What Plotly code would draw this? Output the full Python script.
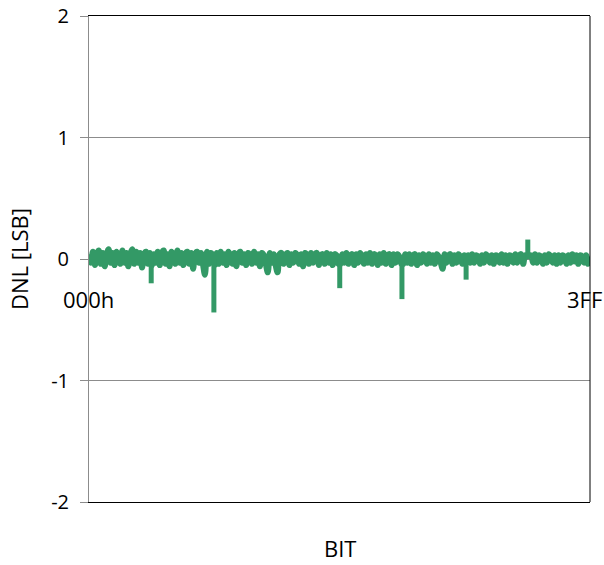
import numpy as np
import plotly.graph_objects as go

# DNL noise sampled across codes 000h..3FFh (256 samples, spikes listed separately)
dnl = [
    0.04,-0.03,0.06,-0.05,0.03,0.07,-0.04,0.05,-0.06,0.04,0.08,-0.03,0.05,-0.05,0.06,0.02,
    -0.04,0.07,-0.03,0.05,-0.06,0.04,0.08,-0.04,0.06,-0.03,0.05,-0.07,0.04,0.06,-0.04,0.05,
    -0.05,0.04,-0.03,0.06,-0.05,0.05,0.07,-0.04,0.04,-0.06,0.06,0.03,-0.04,0.07,-0.03,0.05,
    -0.05,0.04,0.06,-0.04,0.05,-0.08,0.04,0.06,-0.03,0.05,-0.04,-0.13,0.06,-0.04,0.05,0.03,
    -0.05,0.05,-0.04,0.06,-0.03,0.04,-0.05,0.06,0.03,-0.04,0.05,-0.06,0.04,0.06,-0.03,0.04,
    -0.05,0.05,0.03,-0.04,0.06,-0.03,0.04,-0.06,0.05,0.03,-0.04,-0.11,0.05,-0.03,0.04,-0.05,
    -0.11,0.04,0.05,-0.04,0.03,0.05,-0.05,0.04,-0.03,0.05,0.03,-0.04,0.04,-0.06,0.05,0.03,
    -0.04,0.05,-0.03,0.04,0.05,-0.05,0.03,0.04,-0.04,0.05,-0.03,0.04,-0.05,0.04,0.03,-0.04,
    -0.04,0.04,-0.03,0.05,-0.04,0.03,0.04,-0.05,0.04,-0.03,0.05,0.02,-0.04,0.04,-0.03,0.05,
    -0.04,0.04,0.03,-0.05,0.04,-0.03,0.05,-0.04,0.03,0.04,-0.05,0.04,-0.03,0.04,0.02,-0.04,
    -0.04,0.04,-0.03,0.04,-0.04,0.03,0.04,-0.05,0.03,-0.03,0.04,0.02,-0.04,0.04,-0.03,0.03,
    -0.04,0.04,0.02,-0.03,-0.08,0.04,-0.03,0.03,0.04,-0.04,0.03,-0.03,0.04,0.02,-0.04,0.03,
    -0.03,0.03,-0.03,0.04,-0.03,0.03,0.02,-0.04,0.03,-0.03,0.04,0.02,-0.03,0.03,-0.04,0.03,
    0.02,-0.03,0.04,-0.03,0.03,-0.04,0.03,0.02,-0.03,0.04,-0.03,0.03,0.04,-0.04,0.03,0.02,
    0.03,0.03,-0.03,0.04,-0.03,0.03,0.02,-0.04,0.03,-0.03,0.04,0.02,-0.03,0.03,-0.04,0.03,
    -0.03,0.03,0.02,-0.04,0.03,-0.03,0.04,-0.02,0.03,-0.04,0.03,0.02,-0.03,0.03,-0.04,0.02,
]
# isolated DNL spikes (code, value)
spike_codes = [127, 255, 512, 639, 770, 896]
spike_values = [-0.20, -0.44, -0.24, -0.33, -0.17, 0.16]

code_min, code_max = 0, 1023
codes = np.linspace(code_min, code_max, len(dnl))

x_tick_vals = [code_min, code_max]
x_tick_text = ["000h", "3FF"]
y_tick_vals = [-2, -1, 0, 1, 2]
y_tick_text = ["-2", "-1", "0", "1", "2"]
y_title = "DNL [LSB]"
x_title = "BIT"

FONT = "'Open Sans', Lato, sans-serif"
FS = 22
GREEN = "#339966"

fig = go.Figure()
fig.add_trace(go.Scatter(x=codes, y=dnl, mode="lines",
                         line=dict(color=GREEN, width=6, shape="spline", smoothing=1),
                         showlegend=False, hoverinfo="skip"))
sx, sy = [], []
for c, v in zip(spike_codes, spike_values):
    sx += [c, c, None]
    sy += [0, v, None]
fig.add_trace(go.Scatter(x=sx, y=sy, mode="lines",
                         line=dict(color=GREEN, width=5), showlegend=False,
                         hoverinfo="skip"))

fig.update_layout(
    width=604, height=565, autosize=False,
    margin=dict(l=89, r=14, t=16, b=63, pad=0),
    paper_bgcolor="white", plot_bgcolor="white",
    font=dict(family=FONT, size=FS, color="#000000"),
    xaxis=dict(range=[code_min, code_max], showgrid=False, zeroline=False,
               showticklabels=False, ticks="", showline=True, linecolor="#000000",
               linewidth=1, mirror=True, automargin=False),
    yaxis=dict(range=[-2, 2], tickvals=y_tick_vals, ticktext=y_tick_text,
               showgrid=True, automargin=False,
               gridcolor="#8c8c8c", gridwidth=1, zeroline=False,
               showline=True, linecolor="#8c8c8c", linewidth=1,
               ticks="outside", ticklen=8, tickcolor="#8c8c8c",
               ticklabelstandoff=7,
               tickfont=dict(family=FONT, size=20, color="#000000")),
    shapes=[dict(type="line", xref="paper", yref="paper", x0=1, x1=1, y0=0, y1=1,
                 line=dict(color="#000000", width=1))],
)

for xv, txt, sh in zip(x_tick_vals, x_tick_text, [-1, -6]):
    fig.add_annotation(x=xv, y=0, xref="x", yref="y", text=txt, showarrow=False,
                       yanchor="middle", yshift=-40, xshift=sh,
                       font=dict(family=FONT, size=FS, color="#000000"))

fig.add_annotation(x=0.5, y=0, xref="paper", yref="paper", text=x_title,
                   showarrow=False, yanchor="middle", xanchor="center", yshift=-46,
                   font=dict(family=FONT, size=FS, color="#000000"))
fig.add_annotation(x=0, y=0.5, xref="paper", yref="paper", text=y_title,
                   showarrow=False, textangle=-90, xanchor="center",
                   yanchor="middle", xshift=-70,
                   font=dict(family=FONT, size=FS, color="#000000"))

fig.write_html("out.html", config={"displayModeBar": False},
               post_script="document.body.style.margin='0';")
